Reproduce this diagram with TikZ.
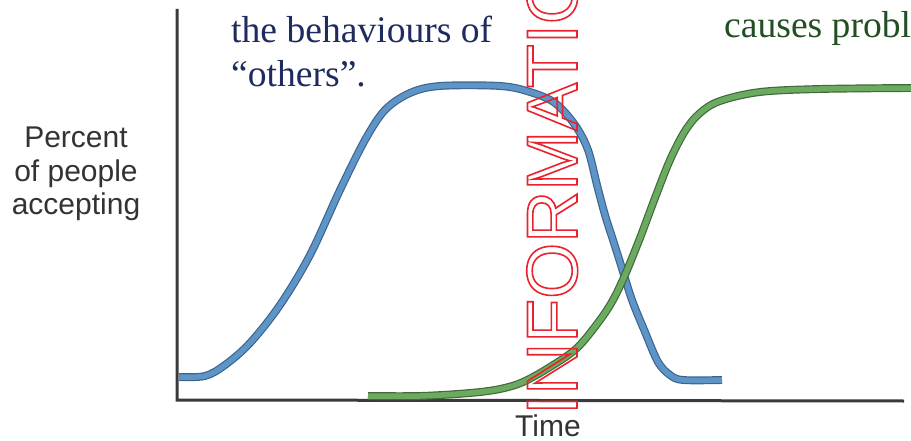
\documentclass[tikz,border=0pt]{standalone}
\usepackage{fontspec}
\setmainfont{Liberation Serif}
\newfontfamily\labelfont{Liberation Sans}
\definecolor{axisgray}{HTML}{3A3A3A}
\definecolor{curveblue}{HTML}{5E95C6}
\definecolor{edgeblue}{HTML}{3B6590}
\definecolor{curvegreen}{HTML}{6CAA62}
\definecolor{edgegreen}{HTML}{3E6B38}
\definecolor{textnavy}{HTML}{1E2B5E}
\definecolor{textgreen}{HTML}{224F22}
\definecolor{markred}{HTML}{E8232E}
\newcommand{\hollowtext}[1]{\special{pdf:literal direct 1.6 w 1 Tr}#1\special{pdf:literal direct 0 Tr}}

\begin{document}
\begin{tikzpicture}[x=1pt,y=-1pt,
        axis/.style={axisgray,line width=3pt},
        curve/.style={line width=1.2pt,double distance=5.5pt},
        labeltext/.style={inner sep=0pt,text=black!80,font=\labelfont\fontsize{30}{33.5}\selectfont},
        headtext/.style={inner sep=0pt,anchor=base west,font=\fontsize{37.6}{44}\selectfont}]
                    \useasboundingbox (0,0) rectangle (911,441);
                    \clip (0,0) rectangle (911,441);
                    \coordinate (origin) at (177,400);
                    \coordinate (ytop) at (177,9);
                    \coordinate (xend) at (904,401);
                    \draw[axis] (ytop) -- (origin) -- (xend);
                    \node[labeltext,align=center] (ylabel) at (76,174) {Percent\\of people\\accepting};
                    \node[labeltext,anchor=base] (xlabel) at (548,436) {Time};
                    \node[headtext,text=textnavy] (behav) at (231,43) {the behaviours of};
                    \node[headtext,text=textnavy] (others) at (231,87) {“others”.};
                    \node[headtext,text=textgreen] (causes) at (724,38) {causes probl};
                    \draw[curve,draw=edgeblue,double=curveblue] plot[smooth,tension=0.55] coordinates {
                        (179,377) (205,376) (225,365) (250,343) (280,305) (310,255) (340,190)
                        (365,140) (385,110) (410,93) (440,86) (500,86) (530,92) (555,103)
                        (575,125) (588,150) (597,185) (605,215) (613,240) (620,262) (632,300)
                        (645,332) (658,362) (670,375) (683,380) (722,380)};
                    \draw[curve,draw=edgegreen,double=curvegreen] plot[smooth,tension=0.55] coordinates {
                        (368,396) (420,396) (470,393) (500,389) (523,382) (550,367) (577,348)
                        (600,320) (613,300) (625,275) (640,238) (655,198) (670,160) (685,131)
                        (700,113) (720,101) (760,92) (820,89) (911,88)};
                    \node[rotate=90,anchor=base west,inner sep=0pt,text=markred,
                        font=\labelfont\fontsize{72}{72}\selectfont] (stamp) at (577,415) {\hollowtext{INFORMATIO}};
                \end{tikzpicture}
\end{document}
